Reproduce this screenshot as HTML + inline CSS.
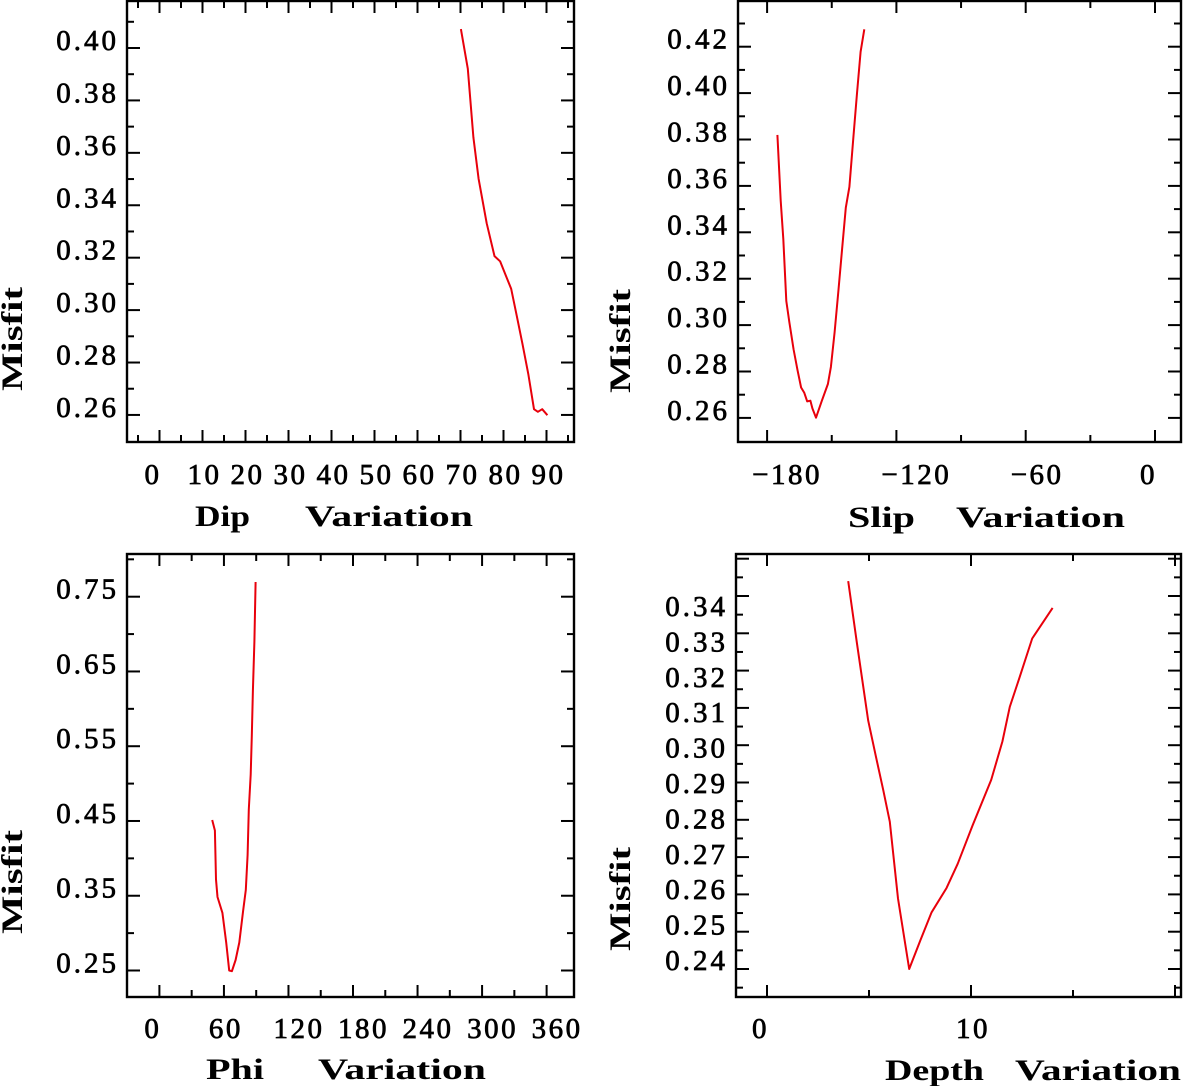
<!DOCTYPE html>
<html><head><meta charset="utf-8"><style>
html,body{margin:0;padding:0;background:#fff;}
svg{display:block;}
text{font-family:"Liberation Serif",serif;fill:#000;}
</style></head><body>
<svg id="fig" width="1183" height="1086" viewBox="0 0 1183 1086" xmlns="http://www.w3.org/2000/svg"></svg>
<script>
// ---- Data ----
const dipX = [70.1,71.7,73.0,74.2,76.1,77.9,79.2,80.5,81.8,83.1,84.4,85.8,87.1,88.0,89.0,90.2];
const dipY = [0.4072,0.3921,0.3659,0.3501,0.3331,0.3206,0.3186,0.3134,0.3081,0.2977,0.2872,0.2754,0.2622,0.2612,0.2622,0.2599];
const slipX = [-175.2,-173.7,-172.5,-171.1,-169.7,-167.7,-165.9,-164.2,-162.8,-161.4,-159.9,-159.0,-157.3,-154.7,-151.8,-150.4,-148.7,-146.9,-145.2,-143.5,-141.8,-140.0,-138.3,-136.6,-134.9];
const slipY = [0.3820,0.3536,0.3372,0.3104,0.3014,0.2895,0.2806,0.2731,0.2709,0.2671,0.2674,0.2641,0.2601,0.2671,0.2746,0.2820,0.2969,0.3148,0.3328,0.3506,0.3596,0.3805,0.3999,0.4178,0.4275];
const phiX = [49.1,51.6,52.6,54.0,58.6,62.1,64.9,67.4,70.8,74.3,77.8,80.3,82.0,83.1,84.9,85.9,86.9,88.3,89.4];
const phiY = [0.4513,0.4373,0.3717,0.3483,0.3272,0.2874,0.2500,0.2490,0.2640,0.2874,0.3296,0.3577,0.4045,0.4653,0.5122,0.5637,0.6245,0.6901,0.7697];
const depthX = [3.98,4.41,4.96,5.33,5.70,6.02,6.42,6.97,7.52,8.07,8.80,9.35,10.08,10.99,11.54,11.90,12.36,13.00,14.00];
const depthY = [0.3440,0.3272,0.3066,0.2972,0.2879,0.2795,0.2589,0.2400,0.2477,0.2552,0.2617,0.2682,0.2785,0.2907,0.3010,0.3103,0.3178,0.3286,0.3368];
const dipXTicks = [0,10,20,30,40,50,60,70,80,90];
const slipXTicks = [-180,-120,-60,0];
const phiXTicks = [0,60,120,180,240,300,360];
const depthXTicks = [0,10];
const dipYTicks = [0.26,0.28,0.30,0.32,0.34,0.36,0.38,0.40];
const slipYTicks = [0.26,0.28,0.30,0.32,0.34,0.36,0.38,0.40,0.42];
const phiYTicks = [0.25,0.35,0.45,0.55,0.65,0.75];
const depthYTicks = [0.24,0.25,0.26,0.27,0.28,0.29,0.30,0.31,0.32,0.33,0.34];

const NS = "http://www.w3.org/2000/svg";
const svg = document.getElementById('fig');
function mk(tag, attrs, parent){
  const e = document.createElementNS(NS, tag);
  for (const k in attrs) e.setAttribute(k, attrs[k]);
  (parent||svg).appendChild(e);
  return e;
}

function panel(cfg){
  const g = mk('g', {});
  
  
  const sx = v => cfg.x0 + v*cfg.kx;
  const sy = v => cfg.y0 + (cfg.vy0 - v)*cfg.ky;
  const L=cfg.left, R=cfg.right, T=cfg.top, B=cfg.bottom;
  const frame = mk('rect', {x:L, y:T, width:R-L, height:B-T, fill:'none', stroke:'#000', 'stroke-width':2.4}, g);
  
  
  const xt = cfg.xTicks, step = xt.length>1 ? xt[1]-xt[0] : 10;
  for (let v = xt[0] - step; v <= xt[xt.length-1] + step + 1e-9; v += step/2){
    const px = sx(v);
    if (px < L+2 || px > R-2) continue;
    const major = Math.abs(((v - xt[0]) / step) - Math.round((v - xt[0]) / step)) < 1e-6;
    const len = major ? 12 : 7;
    const t1 = mk('line', {x1:px, x2:px, y1:B, y2:B-len, stroke:'#000', 'stroke-width':2}, g);
    
    
    const t2 = mk('line', {x1:px, x2:px, y1:T, y2:T+len, stroke:'#000', 'stroke-width':2}, g);
    
    
  }
  xt.forEach(v => {
    const s = v < 0 ? '\u2212' + Math.abs(v) : String(v);
    const tx = mk('text', {x: sx(v) - 15, y: cfg.xLabelY, 'font-size': 29, 'letter-spacing': 2.5, stroke:'#000', 'stroke-width':0.7}, g);
    tx.textContent = s;
    
    
  });
  const yt = cfg.yTicks, ys = yt[1]-yt[0];
  for (let v = yt[0] - ys; v <= yt[yt.length-1] + ys + 1e-9; v += ys/2){
    const py = sy(v);
    if (py < T+3 || py > B-3) continue;
    const major = Math.abs(((v - yt[0]) / ys) - Math.round((v - yt[0]) / ys)) < 1e-6;
    const len = major ? 13 : 7;
    const a = mk('line', {x1:L, x2:L+len, y1:py, y2:py, stroke:'#000', 'stroke-width':2}, g);
    
    
    const b = mk('line', {x1:R, x2:R-len, y1:py, y2:py, stroke:'#000', 'stroke-width':2}, g);
    
    
  }
  yt.forEach(v => {
    const base = cfg.labelY ? cfg.labelY(v) : sy(v) + 2;
    const ty = mk('text', {x: L - 8, y: base, 'font-size': 29, 'text-anchor':'end', 'letter-spacing': 3, stroke:'#000', 'stroke-width':0.7}, g);
    ty.textContent = v.toFixed(2);
    
    
  });
  const pts = cfg.xs.map((x,i) => sx(x).toFixed(1) + ',' + sy(cfg.ys[i]).toFixed(1)).join(' ');
  const line = mk('polyline', {points: pts, fill:'none', stroke:'#e8000b', 'stroke-width':2, 'stroke-linejoin':'round'}, g);
  
  
  const w1 = mk('text', {x: cfg.t1[0], y: cfg.titleY, 'font-size': 30, 'font-weight': 'bold', textLength: cfg.t1[1]-cfg.t1[0], lengthAdjust:'spacingAndGlyphs'}, g);
  w1.textContent = cfg.word;
  
  
  const w2 = mk('text', {x: cfg.t2[0], y: cfg.titleY, 'font-size': 30, 'font-weight': 'bold', textLength: cfg.t2[1]-cfg.t2[0], lengthAdjust:'spacingAndGlyphs'}, g);
  w2.textContent = 'Variation';
  
  
  const my = mk('text', {x: 0, y: 0, 'font-size': 30, 'font-weight': 'bold', textLength: 104, lengthAdjust:'spacingAndGlyphs',
     transform: 'translate(' + cfg.misfit[0] + ',' + cfg.misfit[1] + ') rotate(-90)'}, g);
  my.textContent = 'Misfit';
  
  
}

panel({name:'dip', left:127, right:574, top:1, bottom:442, x0:159.5, kx:4.3, y0:48, vy0:0.40, ky:2621,
  xTicks:dipXTicks, yTicks:dipYTicks, xs:dipX, ys:dipY, xLabelY:484, titleY:526,
  word:'Dip', t1:[195,250], t2:[305,473], misfit:[22,391]});
panel({name:'slip', left:738, right:1181, top:1, bottom:442, x0:1155, kx:2.155, y0:46.7, vy0:0.42, ky:2320,
  xTicks:slipXTicks, yTicks:slipYTicks, xs:slipX, ys:slipY, xLabelY:484, titleY:527,
  word:'Slip', t1:[848,915], t2:[956,1125], misfit:[630,393]});
panel({name:'phi', left:127, right:574, top:554, bottom:997, x0:159.4, kx:1.0756, y0:596.7, vy0:0.75, ky:747.6,
  xTicks:phiXTicks, yTicks:phiYTicks, xs:phiX, ys:phiY, xLabelY:1038, titleY:1079,
  word:'Phi', t1:[206,264], t2:[318,486], misfit:[22,934]});
panel({name:'depth', left:736, right:1181, top:554, bottom:997, x0:767, kx:20.4, y0:969, vy0:0.24, ky:3730,
  xTicks:depthXTicks, yTicks:depthYTicks, xs:depthX, ys:depthY, xLabelY:1038, titleY:1080,
  word:'Depth', t1:[885,984], t2:[1015,1181], misfit:[630,951],
  labelY: v => 970 - (v-0.24)*3540});
</script>
</body></html>
